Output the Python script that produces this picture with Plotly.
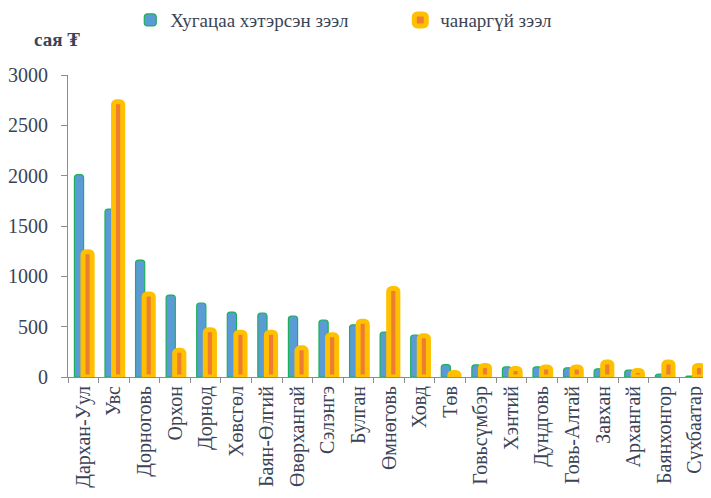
import plotly.graph_objects as go

categories = ["Дархан-Уул", "Увс", "Дорноговь", "Орхон", "Дорнод", "Хөвсгөл", "Баян-Өлгий",
              "Өвөрхангай", "Сэлэнгэ", "Булган", "Өмнөговь", "Ховд", "Төв", "Говьсүмбэр",
              "Хэнтий", "Дундговь", "Говь-Алтай", "Завхан", "Архангай", "Баянхонгор", "Сүхбаатар"]
overdue = [2010, 1668, 1162, 814, 735, 645, 636, 606, 566, 518, 447, 417, 122, 120,
           100, 100, 92, 82, 68, 30, 10]
nonperforming = [1245, 2735, 825, 265, 470, 445, 445, 290, 420, 555, 880, 410, 45, 115,
                 85, 100, 100, 150, 65, 150, 115]
series_names = ["Хугацаа хэтэрсэн зээл", "чанаргүй зээл"]
y_ticks = [0, 500, 1000, 1500, 2000, 2500, 3000]

font_family = "Liberation Serif"
text_color = "#3B4456"

fig = go.Figure()
fig.add_trace(go.Bar(
    x=categories, y=overdue, name=series_names[0],
    width=0.3, offset=-0.29,
    marker=dict(color="#5B9BD5", line=dict(color="#1DAF5A", width=1.2)),
))
fig.add_trace(go.Bar(
    x=categories, y=nonperforming, name=series_names[1],
    width=0.3, offset=-0.01,
    marker=dict(color="#ED7D31", line=dict(color="#FFC000", width=5)),
))

fig.update_layout(
    width=703, height=490,
    margin=dict(l=60, r=1, t=67, b=121, autoexpand=False),
    paper_bgcolor="white", plot_bgcolor="white",
    font=dict(family=font_family, size=20, color=text_color),
    barmode="overlay",
    barcornerradius=3,
    showlegend=True,
    legend=dict(orientation="h", x=0.097, y=1.182, xanchor="left", yanchor="middle",
                entrywidth=225, entrywidthmode="pixels",
                font=dict(family=font_family, size=19, color=text_color),
                bgcolor="rgba(0,0,0,0)"),
    annotations=[dict(text="<b>сая ₮</b>", xref="paper", yref="paper", x=-0.017, y=1.116,
                      xanchor="center", yanchor="middle", showarrow=False,
                      font=dict(family=font_family, size=19, color=text_color))],
)
fig.update_xaxes(
    type="category", range=[-0.5, len(categories) - 0.5], tickangle=-90,
    showline=True, linecolor="#8C8C8C", linewidth=1, automargin=False,
    ticks="outside", tickson="boundaries", ticklen=5, tickcolor="#8C8C8C",
    showgrid=False, tickfont=dict(family=font_family, size=20, color=text_color),
)
fig.update_yaxes(
    range=[0, 3000], tickvals=y_ticks, showline=True, linecolor="#8C8C8C", linewidth=1,
    ticks="outside", ticklen=6, tickcolor="#8C8C8C", showgrid=False, zeroline=False,
    automargin=False, ticklabelstandoff=9,
    tickfont=dict(family=font_family, size=20, color=text_color),
)

fig.write_html("out.html")
